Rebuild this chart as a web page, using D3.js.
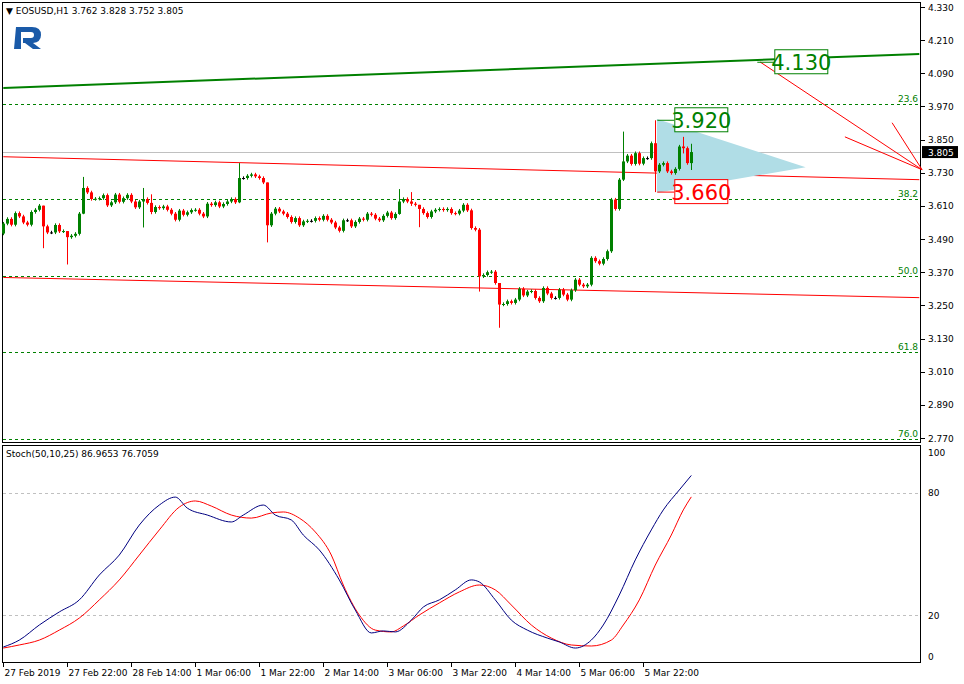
<!DOCTYPE html>
<html><head><meta charset="utf-8">
<script src="https://cdn.jsdelivr.net/npm/d3@7"></script>
<style>
body{margin:0;background:#fff}
text{font-family:"DejaVu Sans",sans-serif;font-size:9px}
</style></head><body><svg width="964" height="684"></svg>
<script>
// EOSUSD H1 closes, one per bar (bar 0 = 27 Feb 2019 06:00)
var closes = [
 3.546,3.563,3.542,3.584,3.572,3.550,3.542,3.588,3.596,3.611,3.536,3.514,3.514,3.541,3.518,3.519,3.497,3.502,3.509,3.582,
 3.675,3.659,3.635,3.636,3.638,3.649,3.612,3.623,3.651,3.625,3.638,3.650,3.626,3.605,3.626,3.635,3.621,3.588,3.606,3.602,
 3.608,3.596,3.582,3.560,3.593,3.578,3.587,3.595,3.596,3.582,3.572,3.618,3.613,3.623,3.608,3.617,3.626,3.635,3.623,3.711,
 3.711,3.719,3.724,3.717,3.711,3.695,3.540,3.582,3.600,3.590,3.582,3.570,3.552,3.566,3.540,3.554,3.556,3.556,3.566,3.560,
 3.574,3.560,3.550,3.532,3.520,3.558,3.558,3.536,3.552,3.564,3.560,3.582,3.578,3.564,3.558,3.574,3.586,3.566,3.581,3.626,
 3.635,3.626,3.618,3.614,3.599,3.584,3.570,3.590,3.596,3.599,3.595,3.599,3.584,3.582,3.593,3.614,3.594,3.530,3.524,3.355,
 3.360,3.370,3.372,3.331,3.253,3.255,3.265,3.259,3.271,3.310,3.286,3.300,3.302,3.277,3.265,3.313,3.293,3.277,3.277,3.307,
 3.289,3.271,3.305,3.343,3.325,3.319,3.325,3.422,3.410,3.401,3.418,3.446,3.633,3.599,3.705,3.771,3.792,3.762,3.801,3.763,
 3.783,3.783,3.837,3.735,3.759,3.765,3.735,3.729,3.744,3.825,3.819,3.765,3.805
];
var firstOpen = 3.510;
// notable wicks [bar, high, low]
var wicks = [[10,3.611,3.457],[16,3.519,3.398],[20,3.715,3.580],[35,3.675,3.532],[37,3.652,3.580],[59,3.765,3.620],
 [66,3.695,3.478],[99,3.671,3.578],[102,3.660,3.610],[104,3.614,3.533],[119,3.530,3.300],[124,3.331,3.169],
 [155,3.879,3.700],[163,3.920,3.660],[170,3.860,3.800],[172,3.835,3.740]];
// stochastic %K and %D [bar, value]
var stochK = [[0,4.4],[4,7.8],[9,15.2],[14,21.6],[19,27.5],[24,39.7],[29,49.5],[34,64.2],[39,74.0],[43,77.9],[46,72.5],
 [51,69.1],[57,65.7],[60,69.1],[65,74.0],[68,69.1],[72,66.7],[75,59.3],[79,52.0],[84,37.3],[88,22.5],[92,11.3],[95,12.3],
 [98,11.8],[102,17.6],[105,24.0],[109,27.5],[113,32.4],[117,37.3],[119,36.3],[123,27.5],[127,17.6],[131,12.7],[136,8.8],
 [139,6.9],[143,3.9],[147,7.8],[150,15.2],[154,29.9],[158,47.1],[162,61.8],[165,71.6],[169,81.4],[172,88.5]];
var stochD = [[0,3.9],[4,5.4],[9,7.8],[14,12.7],[19,18.6],[24,27.5],[29,37.3],[34,49.5],[39,61.8],[44,73.0],[48,76.0],
 [52,73.5],[57,69.1],[62,67.6],[67,70.1],[70,70.6],[74,67.6],[78,60.8],[82,49.5],[85,34.8],[89,20.1],[93,12.7],[97,11.8],
 [100,14.7],[104,20.1],[109,26.0],[114,31.4],[119,34.8],[123,32.4],[127,25.0],[132,15.2],[137,8.8],[142,5.4],[147,4.9],
 [152,7.8],[155,15.2],[159,27.5],[163,44.6],[167,59.3],[170,71.6],[172,78.0]];
var priceTicks = [4.330,4.210,4.090,3.970,3.850,3.730,3.610,3.490,3.370,3.250,3.130,3.010,2.890,2.770];
var fibLevels = [["23.6",3.979],["38.2",3.636],["50.0",3.358],["61.8",3.080],["76.0",2.765]];
var timeLabels = ["27 Feb 2019","27 Feb 22:00","28 Feb 14:00","1 Mar 06:00","1 Mar 22:00","2 Mar 14:00",
 "3 Mar 06:00","3 Mar 22:00","4 Mar 14:00","5 Mar 06:00","5 Mar 22:00"];
var greenLine = [[0,4.037],[229,4.160]];
var redUpper = [[0,3.788],[229,3.705]];
var redLower = [[0,3.351],[229,3.278]];
var fanLines = [[[189.2,4.131],[229.7,3.741]],[[210.4,3.860],[229.7,3.741]],[[222.2,3.911],[229.7,3.741]]];
var triangle = [[163.4,3.925],[200.6,3.750],[163.4,3.658]];
var priceBoxes = [[167,3.920,"3.920","#008000"],[167,3.660,"3.660","#ff0000"],[192,4.130,"4.130","#008000"]];
var lastPrice = 3.805;

var svg = d3.select("svg");
var x = d3.scaleLinear().domain([0, 1]).range([3.3, 7.3]);
var y = d3.scaleLinear().domain([2.770, 4.330]).range([438, 7]);
var ys = d3.scaleLinear().domain([0, 100]).range([656, 452]);
var green = "#008000", red = "#ff0000";

// frames
svg.append("rect").attr("x", 2.5).attr("y", 2.5).attr("width", 918).attr("height", 440).attr("fill", "none").attr("stroke", "#000");
svg.append("rect").attr("x", 2.5).attr("y", 445.5).attr("width", 918).attr("height", 217).attr("fill", "none").attr("stroke", "#000");

// right price axis
priceTicks.forEach(function (p) {
  svg.append("line").attr("x1", 921).attr("x2", 925).attr("y1", Math.round(y(p)) + .5).attr("y2", Math.round(y(p)) + .5).attr("stroke", "#000");
  svg.append("text").attr("x", 928).attr("y", y(p) + 3.5).text(p.toFixed(3));
});

// fib levels
fibLevels.forEach(function (f) {
  var yy = Math.round(y(f[1])) + .5;
  svg.append("line").attr("x1", 3).attr("x2", 920).attr("y1", yy).attr("y2", yy)
    .attr("stroke", green).attr("stroke-dasharray", "3,3");
  svg.append("text").attr("x", 918).attr("y", yy - 3).attr("text-anchor", "end").attr("fill", green).text(f[0]);
});

// last price line
svg.append("line").attr("x1", 3).attr("x2", 920).attr("y1", Math.round(y(lastPrice)) + .5).attr("y2", Math.round(y(lastPrice)) + .5).attr("stroke", "#c0c0c0");

var line = d3.line().x(function (d) { return x(d[0]); }).y(function (d) { return y(d[1]); });
svg.append("path").attr("d", line(greenLine)).attr("stroke", green).attr("stroke-width", 2).attr("fill", "none");
svg.append("path").attr("d", line(redUpper)).attr("stroke", red).attr("fill", "none");
svg.append("path").attr("d", line(redLower)).attr("stroke", red).attr("fill", "none");

// triangle
svg.append("path").attr("d", line(triangle) + "Z").attr("fill", "#b0dde6");

fanLines.forEach(function (l) {
  svg.append("path").attr("d", line(l)).attr("stroke", red).attr("fill", "none");
});

// candles
var wickMap = {};
wicks.forEach(function (w) { wickMap[w[0]] = w; });
var bars = closes.map(function (c, i) {
  var o = i === 0 ? firstOpen : closes[i - 1];
  var w = wickMap[i];
  return {i: i, o: o, c: c, h: w ? w[1] : Math.max(o, c) + 0.006, l: w ? w[2] : Math.min(o, c) - 0.006};
});
var g = svg.append("g");
bars.forEach(function (b) {
  var col = b.c > b.o ? green : (b.c < b.o ? red : "#000");
  var cx = Math.round(x(b.i)) + .5;
  g.append("line").attr("x1", cx).attr("x2", cx).attr("y1", y(b.h)).attr("y2", y(b.l)).attr("stroke", col);
  var top = y(Math.max(b.o, b.c)), bot = y(Math.min(b.o, b.c));
  g.append("rect").attr("x", cx - 1.5).attr("y", top).attr("width", 3).attr("height", Math.max(1, bot - top)).attr("fill", col);
});

// price boxes
priceBoxes.forEach(function (pb) {
  var bx = x(pb[0]) + 3, by = y(pb[1]);
  svg.append("line").attr("x1", x(pb[0] - 3.5)).attr("x2", bx).attr("y1", by).attr("y2", by).attr("stroke", pb[3]);
  svg.append("rect").attr("x", bx + .5).attr("y", by - 12.5).attr("width", 53).attr("height", 24)
    .attr("fill", "#fff").attr("stroke", pb[3]);
  svg.append("text").attr("x", bx + 27).attr("y", by + 7.5).attr("text-anchor", "middle")
    .attr("fill", pb[3]).style("font-size", "21px").text(pb[2]);
});

// current price tag
svg.append("rect").attr("x", 922).attr("y", y(lastPrice) - 6).attr("width", 36).attr("height", 12).attr("fill", "#000");
svg.append("text").attr("x", 928).attr("y", y(lastPrice) + 3.5).attr("fill", "#fff").text(lastPrice.toFixed(3));

// header + logo
svg.append("text").attr("x", 6).attr("y", 14).text("\u25BC EOSUSD,H1  3.762 3.828 3.752 3.805");
svg.append("path").attr("d", "M16,27 h16 q9,0 9,8 q0,7 -8,8 l8,6 h-8 l-8,-6 h-2 v-5 h8 q3,0 3,-3 q0,-3 -3,-3 h-10 v17 h-7 z")
  .attr("fill", "#1a5aa8");

// stochastic
[80, 20].forEach(function (v) {
  svg.append("line").attr("x1", 3).attr("x2", 920).attr("y1", Math.round(ys(v)) + .5).attr("y2", Math.round(ys(v)) + .5)
    .attr("stroke", "#c0c0c0").attr("stroke-dasharray", "3,3");
});
[100, 80, 20, 0].forEach(function (v) {
  svg.append("text").attr("x", 928).attr("y", ys(v) + 3.5).text(v);
});
var sline = d3.line().x(function (d) { return x(d[0]); }).y(function (d) { return ys(d[1]); }).curve(d3.curveMonotoneX);
svg.append("path").attr("d", sline(stochD)).attr("stroke", red).attr("fill", "none");
svg.append("path").attr("d", sline(stochK)).attr("stroke", "#000080").attr("fill", "none");
svg.append("text").attr("x", 6).attr("y", 457).text("Stoch(50,10,25) 86.9653 76.7059");

// time axis
timeLabels.forEach(function (t, k) {
  var tx = Math.round(x(k * 16)) + .5;
  svg.append("line").attr("x1", tx).attr("x2", tx).attr("y1", 662).attr("y2", 667).attr("stroke", "#000");
  svg.append("text").attr("x", tx + 1).attr("y", 676).text(t);
});
</script></body></html>
